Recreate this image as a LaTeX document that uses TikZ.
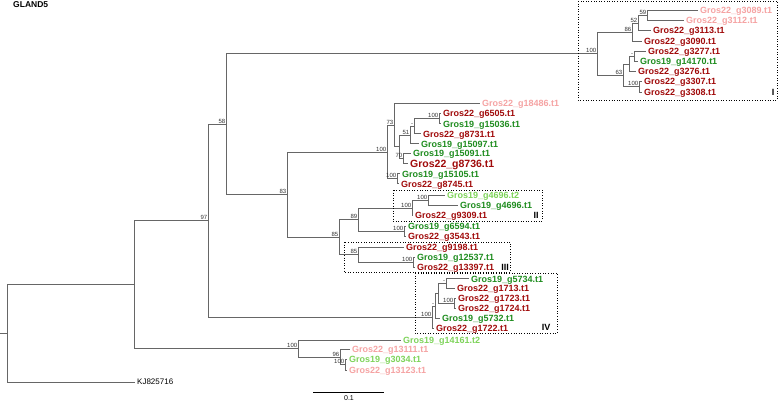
\documentclass[tikz,border=0pt]{standalone}
\usepackage{fontspec}
\setmainfont{Liberation Sans}
\usetikzlibrary{positioning}
\definecolor{dred}{HTML}{A00A0A}
\definecolor{dgreen}{HTML}{1E8C1E}
\definecolor{lpink}{HTML}{F5A3A3}
\definecolor{lgreen}{HTML}{7ED35A}

\begin{document}
\begin{tikzpicture}[x=1pt, y=-1pt,
  br/.style={draw=black!60, line width=0.7pt},
  lf/.style={anchor=west, inner xsep=2pt, inner ysep=0pt, text height=6.4pt, text depth=0pt, font=\fontsize{9}{9}\selectfont\bfseries},
  dr/.style={lf, text=dred}, gr/.style={lf, text=dgreen},
  pk/.style={lf, text=lpink}, lg/.style={lf, text=lgreen},
  bs/.style={anchor=south east, inner sep=0.6pt, font=\fontsize{6}{6}\selectfont, text=black!80},
  clade/.style={draw, dotted, line width=0.6pt},
  roman/.style={font=\fontsize{9}{9}\selectfont\bfseries, inner sep=0pt}]
  \useasboundingbox (0,0) rectangle (778,401);

  \node [font=\fontsize{8.5}{8.5}\selectfont\bfseries, anchor=west, inner sep=0pt] (title) at (13,5) {GLAND5};

  \node [pk] (g3089) at (698,10.3) {Gros22\_g3089.t1};
  \node [pk] (g3112) at (684,20.4) {Gros22\_g3112.t1};
  \node [dr] (g3113) at (651,30.8) {Gros22\_g3113.t1};
  \node [dr] (g3090) at (642,41.0) {Gros22\_g3090.t1};
  \node [dr] (g3277) at (646,51.5) {Gros22\_g3277.t1};
  \node [gr] (g14170) at (638,61.6) {Gros19\_g14170.t1};
  \node [dr] (g3276) at (636,71.7) {Gros22\_g3276.t1};
  \node [dr] (g3307) at (642,81.8) {Gros22\_g3307.t1};
  \node [dr] (g3308) at (642,91.9) {Gros22\_g3308.t1};

  \node [pk] (g18486) at (480,103.5) {Gros22\_g18486.t1};
  \node [dr] (g6505) at (441,113.8) {Gros22\_g6505.t1};
  \node [gr] (g15036) at (441,123.8) {Gros19\_g15036.t1};
  \node [dr] (g8731) at (421,133.8) {Gros22\_g8731.t1};
  \node [gr] (g15097) at (419,143.8) {Gros19\_g15097.t1};
  \node [gr] (g15091) at (411,153.5) {Gros19\_g15091.t1};
  \node [dr, text height=7.5pt, font=\fontsize{10.5}{10.5}\selectfont\bfseries] (g8736) at (408,163.5) {Gros22\_g8736.t1};
  \node [gr] (g15105) at (400,173.8) {Gros19\_g15105.t1};
  \node [dr] (g8745) at (399,183.8) {Gros22\_g8745.t1};

  \node [lg] (g4696b) at (445,195.5) {Gros19\_g4696.t2};
  \node [gr] (g4696a) at (458,205.3) {Gros19\_g4696.t1};
  \node [dr] (g9309) at (413,215.5) {Gros22\_g9309.t1};
  \node [gr] (g6594) at (406,226) {Gros19\_g6594.t1};
  \node [dr] (g3543) at (406,236.2) {Gros22\_g3543.t1};
  \node [dr] (g9198) at (404,247) {Gros22\_g9198.t1};
  \node [gr] (g12537) at (415,257) {Gros19\_g12537.t1};
  \node [dr] (g13397) at (415,267) {Gros22\_g13397.t1};

  \node [gr] (g5734) at (469,278.8) {Gros19\_g5734.t1};
  \node [dr] (g1713) at (455,288.5) {Gros22\_g1713.t1};
  \node [dr] (g1723) at (456,298.5) {Gros22\_g1723.t1};
  \node [dr] (g1724) at (456,308.5) {Gros22\_g1724.t1};
  \node [gr] (g5732) at (440,318.5) {Gros19\_g5732.t1};
  \node [dr] (g1722) at (434,328.5) {Gros22\_g1722.t1};

  \node [lg] (g14161) at (401,340.5) {Gros19\_g14161.t2};
  \node [pk] (g13111) at (350,349.5) {Gros22\_g13111.t1};
  \node [lg] (g3034) at (347,359.5) {Gros19\_g3034.t1};
  \node [pk] (g13123) at (347,370) {Gros22\_g13123.t1};
  \node [lf, text height=5.8pt, font=\fontsize{8}{8}\selectfont] (kj) at (135,382) {KJ825716};

  \coordinate (n59) at (647,15.35);
  \coordinate (n52) at (638,23.1);
  \coordinate (n86) at (632,32.0);
  \coordinate (nY) at (634,56.55);
  \coordinate (nX) at (629,64.1);
  \coordinate (nIb) at (639,86.85);
  \coordinate (n63) at (623,75.5);
  \coordinate (nI) at (597,53.75);
  \coordinate (n100c) at (439,118.8);
  \coordinate (nX2) at (414,126.3);
  \coordinate (n51) at (410,135.05);
  \coordinate (nW) at (403,158.5);
  \coordinate (nU) at (399,146.8);
  \coordinate (n73) at (394,125.15);
  \coordinate (n100b) at (397,178.8);
  \coordinate (n100) at (387,151.98);
  \coordinate (n100g) at (428,200.4);
  \coordinate (nII) at (412,208);
  \coordinate (n100h) at (404,231.1);
  \coordinate (n89) at (358,219.5);
  \coordinate (n100i) at (413,262);
  \coordinate (n85b) at (358,254.5);
  \coordinate (n85) at (339,237);
  \coordinate (n83) at (287,194.5);
  \coordinate (n58) at (226,124.1);
  \coordinate (nA3) at (446,283.6);
  \coordinate (n100d) at (454,303.5);
  \coordinate (nA2) at (438,293.5);
  \coordinate (nA1) at (435,306);
  \coordinate (nIV) at (432,317.25);
  \coordinate (n97) at (208,220.7);
  \coordinate (n100f) at (345,364.75);
  \coordinate (n96) at (340,357.1);
  \coordinate (n100e) at (298,348.8);
  \coordinate (nA) at (134,284.75);
  \coordinate (root) at (7,333.4);
  \coordinate (stub) at (0,333.4);

  \draw [br] (stub) -- (root);
  \draw [br] (root) |- (nA);
  \draw [br] (root) |- (kj.west);
  \draw [br] (nA) |- (n97);
  \draw [br] (nA) |- (n100e);
  \draw [br] (n97) |- (n58);
  \draw [br] (n97) |- (nIV);
  \draw [br] (n58) |- (nI);
  \draw [br] (n58) |- (n83);

  \draw [br] (nI) |- (n86);
  \draw [br] (nI) |- (n63);
  \draw [br] (n86) |- (n52);
  \draw [br] (n86) |- (g3090.west);
  \draw [br] (n52) |- (n59);
  \draw [br] (n52) |- (g3113.west);
  \draw [br] (n59) |- (g3089.west);
  \draw [br] (n59) |- (g3112.west);
  \draw [br] (n63) |- (nX);
  \draw [br] (n63) |- (nIb);
  \draw [br] (nX) |- (nY);
  \draw [br] (nX) |- (g3276.west);
  \draw [br] (nY) |- (g3277.west);
  \draw [br] (nY) |- (g14170.west);
  \draw [br] (nIb) |- (g3307.west);
  \draw [br] (nIb) |- (g3308.west);

  \draw [br] (n83) |- (n100);
  \draw [br] (n83) |- (n85);
  \draw [br] (n100) |- (n73);
  \draw [br] (n100) |- (n100b);
  \draw [br] (n73) |- (g18486.west);
  \draw [br] (n73) |- (nU);
  \draw [br] (nU) |- (n51);
  \draw [br] (nU) |- (nW);
  \draw [br] (n51) |- (nX2);
  \draw [br] (n51) |- (g15097.west);
  \draw [br] (nX2) |- (n100c);
  \draw [br] (nX2) |- (g8731.west);
  \draw [br] (n100c) |- (g6505.west);
  \draw [br] (n100c) |- (g15036.west);
  \draw [br] (nW) |- (g15091.west);
  \draw [br] (nW) |- (g8736.west);
  \draw [br] (n100b) |- (g15105.west);
  \draw [br] (n100b) |- (g8745.west);

  \draw [br] (n85) |- (n89);
  \draw [br] (n85) |- (n85b);
  \draw [br] (n89) |- (nII);
  \draw [br] (n89) |- (n100h);
  \draw [br] (nII) |- (n100g);
  \draw [br] (nII) |- (g9309.west);
  \draw [br] (n100g) |- (g4696b.west);
  \draw [br] (n100g) |- (g4696a.west);
  \draw [br] (n100h) |- (g6594.west);
  \draw [br] (n100h) |- (g3543.west);
  \draw [br] (n85b) |- (g9198.west);
  \draw [br] (n85b) |- (n100i);
  \draw [br] (n100i) |- (g12537.west);
  \draw [br] (n100i) |- (g13397.west);

  \draw [br] (nIV) |- (nA1);
  \draw [br] (nIV) |- (g1722.west);
  \draw [br] (nA1) |- (nA2);
  \draw [br] (nA1) |- (g5732.west);
  \draw [br] (nA2) |- (nA3);
  \draw [br] (nA2) |- (n100d);
  \draw [br] (nA3) |- (g5734.west);
  \draw [br] (nA3) |- (g1713.west);
  \draw [br] (n100d) |- (g1723.west);
  \draw [br] (n100d) |- (g1724.west);

  \draw [br] (n100e) |- (g14161.west);
  \draw [br] (n100e) |- (n96);
  \draw [br] (n96) |- (g13111.west);
  \draw [br] (n96) |- (n100f);
  \draw [br] (n100f) |- (g3034.west);
  \draw [br] (n100f) |- (g13123.west);

  \node [bs] (bnI) at (nI) {100};
  \node [bs] (bn86) at (n86) {86};
  \node [bs] (bn52) at (n52) {52};
  \node [bs] (bn59) at (n59) {59};
  \node [bs] (bn63) at (n63) {63};
  \node [bs] (bnIb) at (nIb) {100};
  \node [bs] (bnY) at (nY) {-};
  \node [bs] (bn100) at (n100) {100};
  \node [bs] (bn73) at (n73) {73};
  \node [bs] (bn100c) at (n100c) {100};
  \node [bs] (bn51) at (n51) {51};
  \node [bs] (bnX2) at (nX2) {-};
  \node [bs] (bnW) at (nW) {70};
  \node [bs] (bn100b) at (n100b) {100};
  \node [bs] (bn83) at (n83) {83};
  \node [bs] (bn58) at (n58) {58};
  \node [bs] (bn85) at (n85) {85};
  \node [bs] (bn89) at (n89) {89};
  \node [bs] (bnII) at (nII) {100};
  \node [bs] (bn100g) at (n100g) {100};
  \node [bs] (bn100h) at (n100h) {100};
  \node [bs] (bn85b) at (n85b) {85};
  \node [bs] (bn100i) at (n100i) {100};
  \node [bs] (bn97) at (n97) {97};
  \node [bs] (bnIV) at (nIV) {100};
  \node [bs] (bnA1) at (nA1) {-};
  \node [bs] (bnA3) at (nA3) {-};
  \node [bs] (bn100d) at (n100d) {100};
  \node [bs] (bn100e) at (n100e) {100};
  \node [bs] (bn96) at (n96) {96};
  \node [bs] (bn100f) at (n100f) {100};

  \draw [clade] (578,1) rectangle (777,100);
  \draw [clade] (393,190) rectangle (542,221);
  \draw [clade] (344,242) rectangle (510,272);
  \draw [clade] (415,273) rectangle (557,333);
  \node [roman] (cI) at (773,92) {I};
  \node [roman] (cII) at (536,215) {II};
  \node [roman] (cIII) at (505,267) {III};
  \node [roman] (cIV) at (546,327) {IV};

  \coordinate (sb1) at (313,392);
  \coordinate (sb2) at (384,392);
  \draw [line width=0.6pt] (sb1) -- (sb2);
  \node [font=\fontsize{7}{7}\selectfont, inner sep=0pt] (sbl) at (349,398) {0.1};
\end{tikzpicture}
\end{document}
